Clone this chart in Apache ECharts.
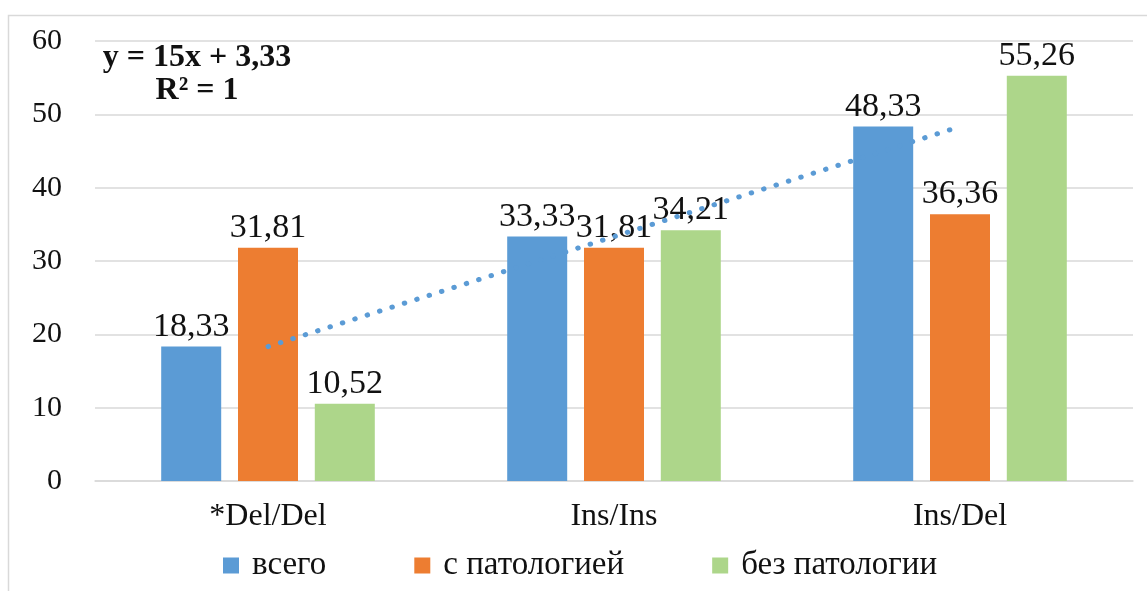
<!DOCTYPE html>
<html>
<head>
<meta charset="utf-8">
<script src="https://cdn.jsdelivr.net/npm/echarts@6/dist/echarts.min.js"></script>
<style>
  html, body { margin: 0; padding: 0; background: #fff; }
  #chart { width: 1147px; height: 591px; }
</style>
</head>
<body>
<div id="chart"></div>
<script>
const categories = ['*Del/Del', 'Ins/Ins', 'Ins/Del']
const seriesNames = ['всего', 'с патологией', 'без патологии']
const totalVals = [18.33, 33.33, 48.33]
const pathVals = [31.81, 31.81, 36.36]
const noPathVals = [10.52, 34.21, 55.26]
// linear trendline for "всего": y = 15x + 3,33
const trendVals = [18.33, 33.33, 48.33]
const yTicks = { min: 0, max: 60, interval: 10 }

const colors = ['#5B9BD5', '#ED7D31', '#ADD68A']
const serif = '"Liberation Serif", "DejaVu Serif", serif'

const chart = echarts.init(document.getElementById('chart'))

const barLabel = {
  show: true,
  position: 'top',
  distance: 3,
  color: '#111',
  fontFamily: serif,
  fontSize: 34,
  formatter: (p) => p.value.toFixed(2).replace('.', ',')
}

const makeBar = (name, data, color) => ({
  name,
  type: 'bar',
  data,
  barWidth: 60,
  barGap: '28%',
  itemStyle: { color },
  label: barLabel,
  z: 2
})

chart.setOption({
  backgroundColor: '#fff',
  animation: false,
  grid: { left: 95, right: 14, top: 41, bottom: 110 },
  legend: {
    data: seriesNames,
    bottom: 4,
    left: 218,
    itemWidth: 16,
    itemHeight: 16,
    itemGap: 88,
    icon: 'rect',
    textStyle: { fontFamily: serif, fontSize: 33, color: '#111', padding: [0, 0, 0, 8] }
  },
  xAxis: {
    type: 'category',
    data: categories,
    axisLine: { lineStyle: { color: '#D9D9D9', width: 1.5 } },
    axisTick: { show: false },
    axisLabel: { fontFamily: serif, fontSize: 32, color: '#111', margin: 20 }
  },
  yAxis: {
    type: 'value',
    min: yTicks.min,
    max: yTicks.max,
    interval: yTicks.interval,
    axisLine: { show: false },
    axisTick: { show: false },
    splitLine: { lineStyle: { color: '#D9D9D9', width: 1.5 } },
    axisLabel: { fontFamily: serif, fontSize: 30, color: '#111', margin: 33 }
  },
  graphic: [
    {
      type: 'rect',
      shape: { x: 8.5, y: 15.5, width: 1300, height: 700 },
      style: { fill: 'none', stroke: '#D9D9D9', lineWidth: 1.5 },
      silent: true
    },
    {
      type: 'text',
      x: 197,
      y: 42,
      style: {
        text: 'y = 15x + 3,33',
        textAlign: 'center',
        fontFamily: serif,
        fontWeight: 'bold',
        fontSize: 32,
        fill: '#111'
      }
    },
    {
      type: 'text',
      x: 197,
      y: 75,
      style: {
        text: 'R² = 1',
        textAlign: 'center',
        fontFamily: serif,
        fontWeight: 'bold',
        fontSize: 32,
        fill: '#111'
      }
    }
  ],
  series: [
    makeBar(seriesNames[0], totalVals, colors[0]),
    makeBar(seriesNames[1], pathVals, colors[1]),
    makeBar(seriesNames[2], noPathVals, colors[2]),
    {
      name: 'trend',
      type: 'line',
      data: trendVals,
      symbol: 'none',
      z: 5,
      lineStyle: { color: '#5B9BD5', width: 5, type: [0.5, 12.5], cap: 'round' }
    }
  ]
})
</script>
</body>
</html>
